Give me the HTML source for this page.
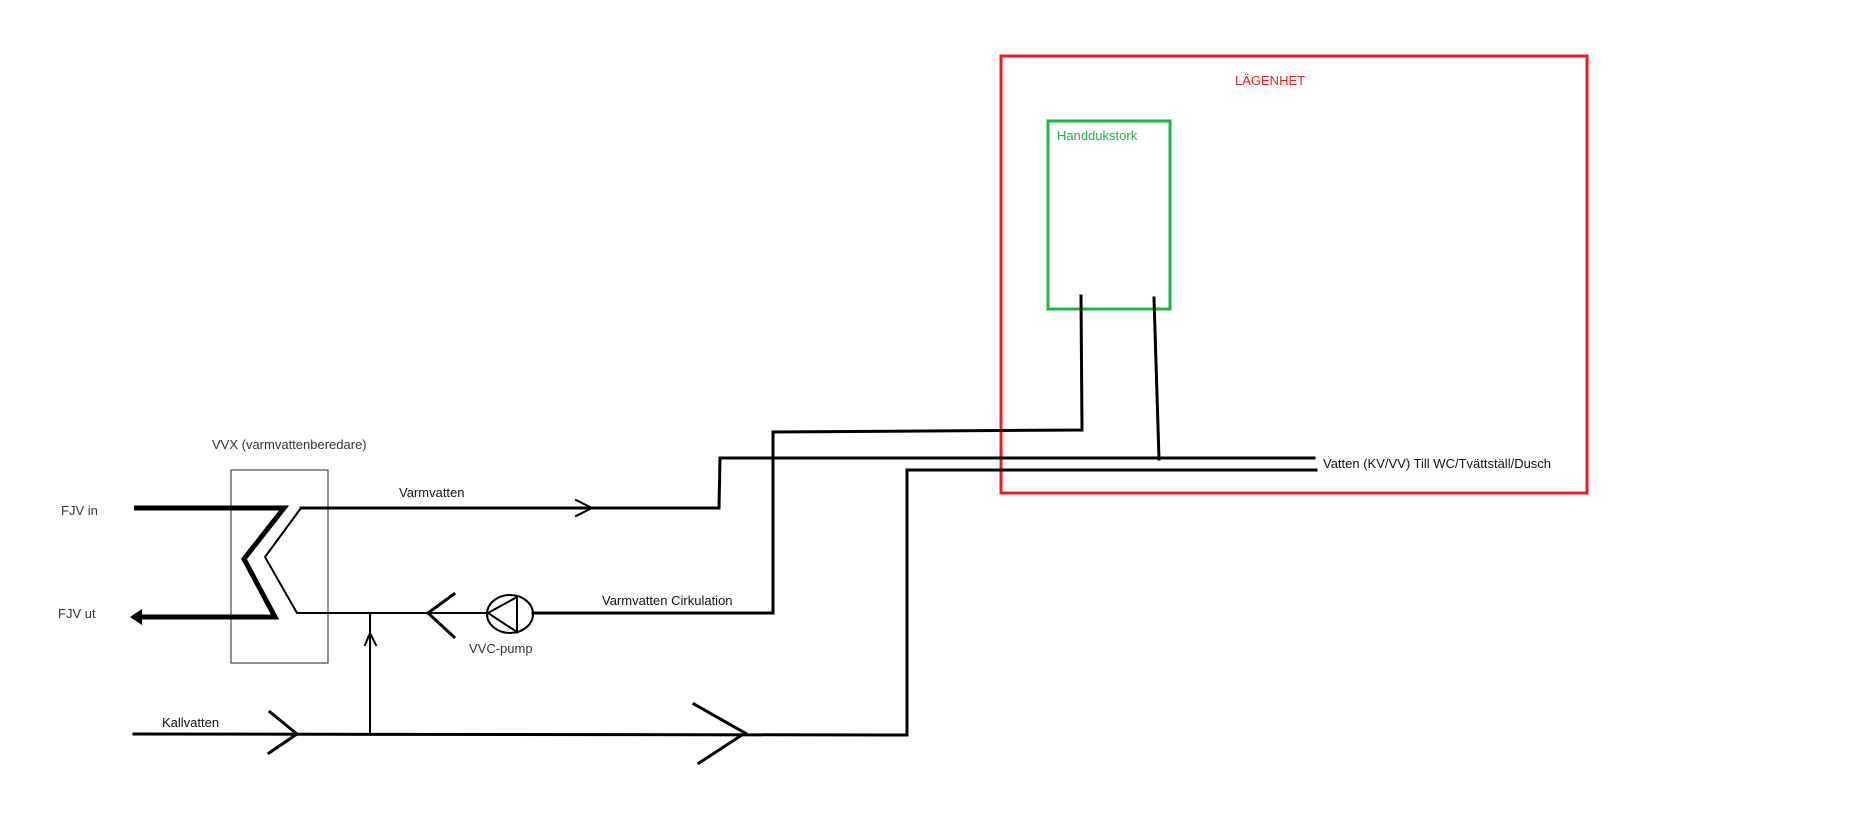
<!DOCTYPE html>
<html><head><meta charset="utf-8"><style>
html,body{margin:0;padding:0;background:#fff;}
svg{display:block}
text{font-family:"Liberation Sans",sans-serif;font-size:13px;fill:#111}
</style></head><body>
<svg width="1863" height="814" viewBox="0 0 1863 814" xmlns="http://www.w3.org/2000/svg">
<rect x="1001" y="56" width="586" height="437" fill="none" stroke="#ed1c24" stroke-width="3"/>
<text x="1235" y="85" style="fill:#ed1c24" font-size="12">LÄGENHET</text>
<rect x="1048" y="121" width="122" height="188" fill="none" stroke="#22b14c" stroke-width="3"/>
<text x="1057" y="140" style="fill:#22b14c" font-size="12">Handdukstork</text>
<g fill="none" stroke="#000" stroke-width="3" stroke-linecap="square">
<polyline points="1081,296 1082,430 773,432 773,613 533,613"/>
<polyline points="1154,298 1159,459"/>
<polyline points="1314,458 720,458 719,508 301,508"/>
<polyline points="1316,470 907,470 907,735 134,734"/>
<rect x="231" y="470" width="97" height="193" stroke="#222" stroke-width="1"/>
<polyline points="301,508 265,557 297,613 487,613" stroke-width="2"/>
<polyline points="134,508 284,508 244,559 275,617 140,617" stroke-width="5" stroke-linecap="butt"/>
<polyline points="576,500 592,508 576,516" stroke-width="2"/>
<polyline points="454,594 428,613 454,637"/>
<line x1="370" y1="613" x2="370" y2="734" stroke-width="2"/>
<polyline points="365,645 370,633 376,645" stroke-width="2"/>
<polyline points="270,712 297,734 269,753"/>
<polyline points="694,704 745,733 699,763"/>
<ellipse cx="510" cy="614" rx="23" ry="19" stroke-width="2"/>
<polygon points="488,613 517,597 517,632" stroke-width="2"/>
</g>
<polygon points="130,617 142,609 142,625" fill="#000"/>
<text x="212" y="449" style="fill:#333" font-size="13">VVX (varmvattenberedare)</text>
<text x="61" y="515" style="fill:#333">FJV in</text>
<text x="58" y="618" style="fill:#333">FJV ut</text>
<text x="399" y="497">Varmvatten</text>
<text x="602" y="605">Varmvatten Cirkulation</text>
<text x="469" y="653" style="fill:#333">VVC-pump</text>
<text x="162" y="727">Kallvatten</text>
<text x="1323" y="468">Vatten (KV/VV) Till WC/Tvättställ/Dusch</text>
</svg>
</body></html>
